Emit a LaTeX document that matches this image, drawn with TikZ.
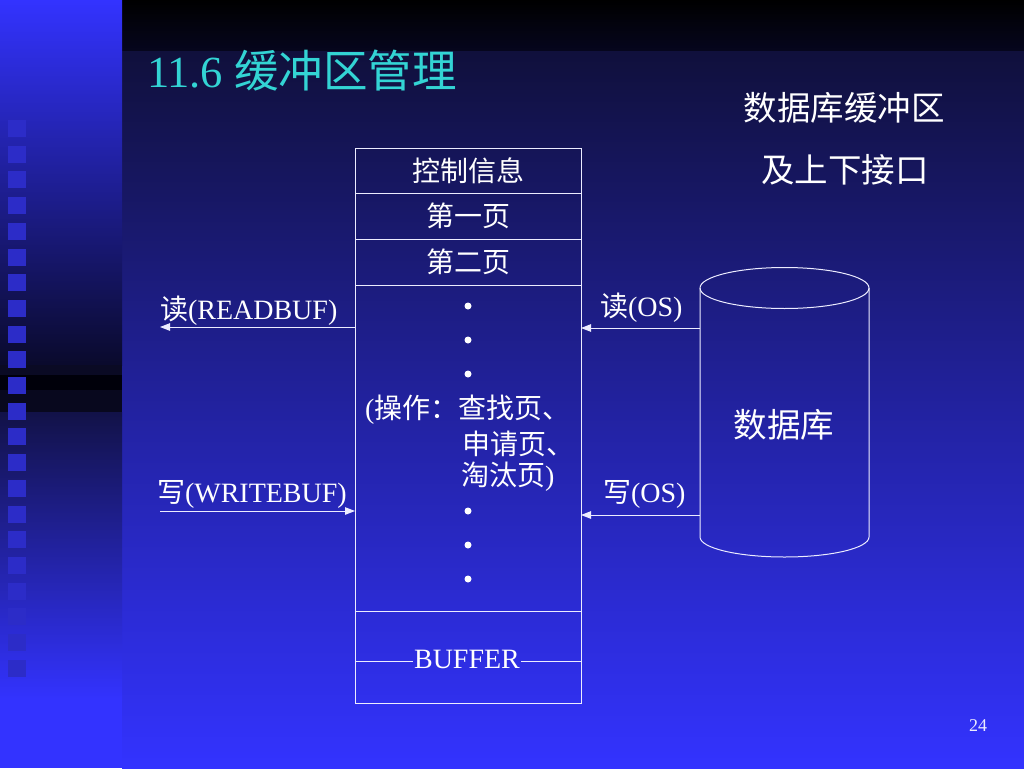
\documentclass[tikz,border=0pt]{standalone}
\usepackage{fontspec}
\setmainfont{Liberation Serif}
\newfontfamily\cjk{Noto Sans CJK SC}
\usetikzlibrary{arrows.meta}
\definecolor{titlecyan}{RGB}{51,212,212}
\definecolor{linec}{RGB}{236,236,255}
\definecolor{bgblue}{RGB}{51,51,255}
\definecolor{sqblue}{RGB}{44,44,200}
\definecolor{topdark}{RGB}{6,6,30}
\definecolor{maintop}{RGB}{16,16,60}
\definecolor{mainmid}{RGB}{34,34,160}
\definecolor{stripa}{RGB}{10,10,44}
\definecolor{stripb}{RGB}{10,10,36}
\definecolor{stripc}{RGB}{0,0,10}
\definecolor{stripd}{RGB}{8,8,30}
\definecolor{stripe}{RGB}{18,18,72}
\begin{document}
\begin{tikzpicture}[x=1pt,y=-1pt,
  every node/.style={inner sep=0pt, outer sep=0pt, text=white, font=\fontsize{28}{34}\selectfont},
  cell/.style={draw=linec, line width=1pt, minimum width=226pt},
  line/.style={draw=linec, line width=1pt},
  conn/.style={draw=linec, line width=1pt, -{Triangle[length=10pt,width=7.5pt]}},
  dotmark/.style={circle, fill=white, minimum size=7pt},
  bigtext/.style={font=\fontsize{33.5}{40}\selectfont}]
\useasboundingbox (0,0) rectangle (1024,768);
% background, main area
\fill[top color=black, bottom color=topdark] (122,0) rectangle (1024,52);
\fill[top color=maintop, bottom color=bgblue, middle color=mainmid] (122,52) rectangle (1024,768);
% left strip
\fill[top color=bgblue, bottom color=stripa] (0,0) rectangle (122,365);
\fill[fill=stripb] (0,365) rectangle (122,375);
\fill[fill=stripc] (0,375) rectangle (122,390);
\fill[fill=stripd] (0,390) rectangle (122,412);
\fill[top color=stripe, bottom color=bgblue] (0,412) rectangle (122,700);
\fill[fill=bgblue] (0,700) rectangle (122,768);
\foreach \i in {0,...,21} {
  \fill[sqblue] (8,{120+25.7*\i}) rectangle (26,{137+25.7*\i});
}
% title
\node[anchor=base west, text=titlecyan, font=\fontsize{44.5}{50}\selectfont] (title) at (147,87) {11.6 {\cjk 缓冲区管理}};
\node[bigtext] (cap1) at (844,108) {\cjk 数据库缓冲区};
\node[bigtext] (cap2) at (845,170) {\cjk 及上下接口};
% buffer box
\node[cell, minimum height=45pt] (c1) at (468,170.5) {\cjk 控制信息};
\node[cell, minimum height=46pt] (c2) at (468,216) {\cjk 第一页};
\node[cell, minimum height=46pt] (c3) at (468,262) {\cjk 第二页};
\node[cell, minimum height=326pt] (c4) at (468,448) {};
\node[cell, minimum height=92pt] (c5) at (468,657) {};
\node[dotmark] (d1) at (468,306) {};
\node[dotmark] (d2) at (468,340) {};
\node[dotmark] (d3) at (468,374) {};
\node[dotmark] (d4) at (468,511) {};
\node[dotmark] (d5) at (468,545) {};
\node[dotmark] (d6) at (468,579) {};
\node[anchor=west] (op1) at (365,410) {({\cjk 操作：查找页、}};
\node[anchor=west] (op2) at (462,444) {\cjk 申请页、};
\node[anchor=west] (op3) at (461,477) {{\cjk 淘汰页})};
\node[inner sep=1.5pt] (buf) at (467,659) {BUFFER};
\coordinate (ybuf) at (0,661);
\draw[line] (c5.west |- ybuf) -- (buf.west |- ybuf);
\draw[line] (buf.east |- ybuf) -- (c5.east |- ybuf);
% database cylinder
\node[minimum width=169pt, minimum height=249pt] (db) at (784.5,412.5) {};
\draw[line] (db.north west) -- (db.south west) arc[start angle=180, end angle=0, x radius=84.5, y radius=20] -- (db.north east);
\draw[line] (db.north) ellipse [x radius=84.5, y radius=20.5];
\node[bigtext] (dbt) at (784,425) {\cjk 数据库};
% left side labels and arrows
\node[anchor=west] (lt1) at (160,311) {{\cjk 读}(READBUF)};
\node[anchor=west] (lt2) at (157,494) {{\cjk 写}(WRITEBUF)};
\coordinate (yl1) at (0,327);
\coordinate (yl2) at (0,511);
\draw[conn] (c4.west |- yl1) -- (lt1.west |- yl1);
\draw[conn] (lt1.west |- yl2) -- (c4.west |- yl2);
% right side labels and arrows
\node[anchor=west] (rt1) at (600,308) {{\cjk 读}(OS)};
\node[anchor=west] (rt2) at (603,494) {{\cjk 写}(OS)};
\coordinate (yr1) at (0,328);
\coordinate (yr2) at (0,515);
\draw[conn] (db.west |- yr1) -- (c4.east |- yr1);
\draw[conn] (db.west |- yr2) -- (c4.east |- yr2);
% page number
\node[font=\fontsize{18}{20}\selectfont, text=linec] (pg) at (978,726) {24};
\end{tikzpicture}
\end{document}
